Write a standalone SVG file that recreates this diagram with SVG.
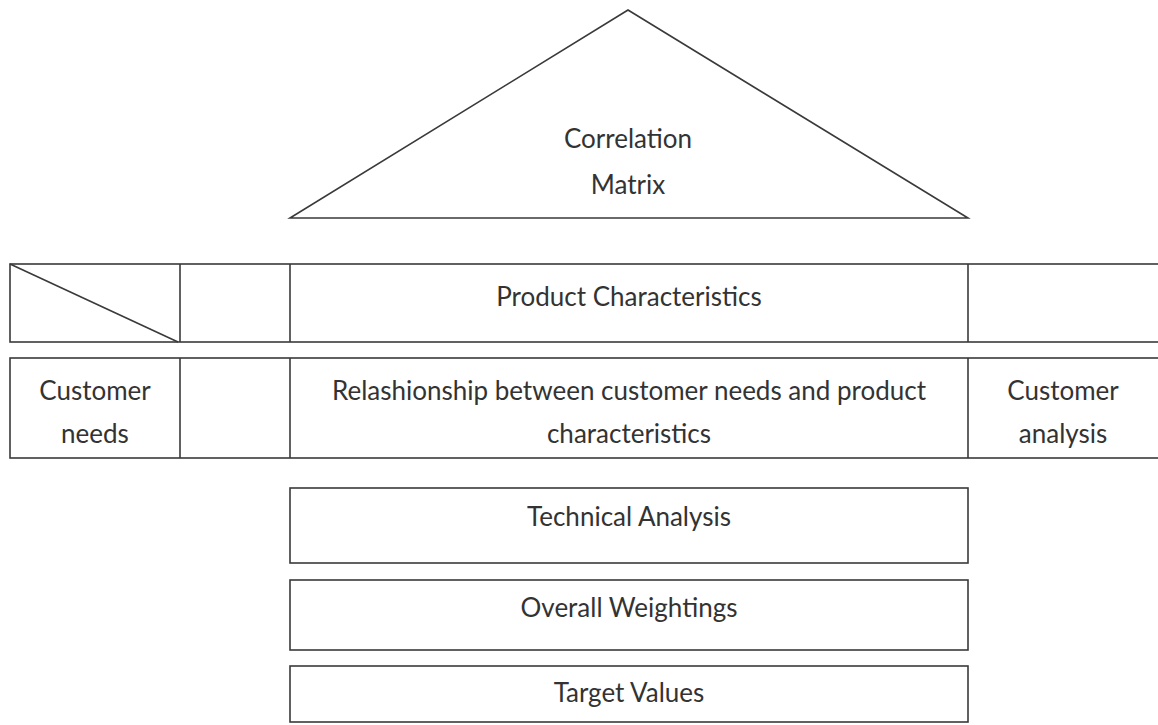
<svg xmlns="http://www.w3.org/2000/svg" width="1158" height="725" viewBox="0 0 1158 725">
<style>
.s{fill:none;stroke:#3a3a3a;stroke-width:1.6}
.t{font-family:Lato,"Open Sans",sans-serif;font-size:26px;fill:#333;text-anchor:middle}
</style>
<rect width="1158" height="725" fill="#fff"/>
<g id="correlation-matrix">
<polygon class="s" points="628,10 968,218 290,218"/>
<text class="t" x="628" y="148">Correlation</text>
<text class="t" x="628" y="194">Matrix</text>
</g>
<g id="row-product">
<rect class="s" x="10" y="264" width="1160" height="78"/>
<line class="s" x1="10" y1="264" x2="178" y2="342"/>
<line class="s" x1="180" y1="264" x2="180" y2="342"/>
<line class="s" x1="290" y1="264" x2="290" y2="342"/>
<line class="s" x1="968" y1="264" x2="968" y2="342"/>
<text class="t" x="629" y="306">Product Characteristics</text>
</g>
<g id="row-relationship">
<rect class="s" x="10" y="358" width="1160" height="100"/>
<line class="s" x1="180" y1="358" x2="180" y2="458"/>
<line class="s" x1="290" y1="358" x2="290" y2="458"/>
<line class="s" x1="968" y1="358" x2="968" y2="458"/>
<text class="t" x="95" y="400">Customer</text>
<text class="t" x="95" y="443">needs</text>
<text class="t" x="629" y="400">Relashionship between customer needs and product</text>
<text class="t" x="629" y="443">characteristics</text>
<text class="t" x="1063" y="400">Customer</text>
<text class="t" x="1063" y="443">analysis</text>
</g>
<g id="technical-analysis">
<rect class="s" x="290" y="488" width="678" height="75"/>
<text class="t" x="629" y="526">Technical Analysis</text>
</g>
<g id="overall-weightings">
<rect class="s" x="290" y="580" width="678" height="70"/>
<text class="t" x="629" y="617">Overall Weightings</text>
</g>
<g id="target-values">
<rect class="s" x="290" y="666" width="678" height="56"/>
<text class="t" x="629" y="702">Target Values</text>
</g>
</svg>
